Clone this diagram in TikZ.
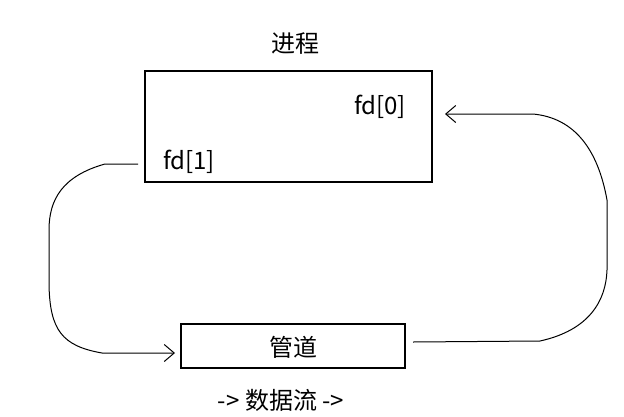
\documentclass[tikz,border=0pt]{standalone}
\usepackage{fontspec}
\setmainfont{Noto Sans CJK SC}
\usetikzlibrary{arrows.meta}
\begin{document}
\begin{tikzpicture}[x=1pt,y=-1pt,
  box/.style={draw,line width=1.2pt,inner sep=0pt},
  lbl/.style={font=\fontsize{24}{28}\selectfont,inner sep=0pt},
  flow/.style={line width=1pt,-{Straight Barb[length=10pt,width=17pt,line width=1pt]}}]
\useasboundingbox (0,0) rectangle (624,416);
\node[box,minimum width=287pt,minimum height=111pt] (proc) at (288.5,126.5) {};
\node[box,minimum width=224pt,minimum height=44pt] (pipe) at (293,346) {};
\node[lbl] (title) at (295,44) {进程};
\node[lbl] (fd0) at (380,107) {fd[0]};
\node[lbl] (fd1) at (189,162) {fd[1]};
\node[lbl] at (293,347) (pipet) {管道};
\node[lbl] (note) at (281,400) {-> 数据流 ->};
\coordinate (a1) at (138,164);
\coordinate (a2) at (175,353);
\coordinate (b1) at (413,342);
\coordinate (b2) at (445,114);
\draw[flow] (a1) -- (105,164) .. controls (62,176) and (49,200) .. (49,230) -- (49,285)
  .. controls (50,330) and (62,346) .. (102,353) -- (a2);
\draw[flow] (b1) -- (540,341) .. controls (590,330) and (606,300) .. (607,270) -- (607,200)
  .. controls (598,150) and (575,118) .. (533,114) -- (b2);
\end{tikzpicture}
\end{document}
